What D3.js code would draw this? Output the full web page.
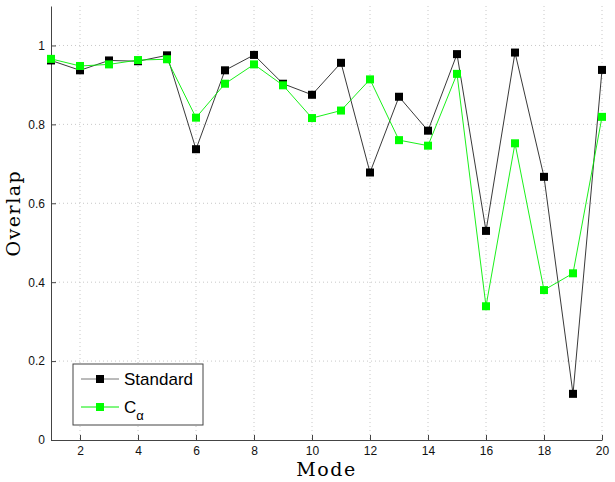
<!DOCTYPE html>
<html>
<head>
<meta charset="utf-8">
<script src="https://cdn.jsdelivr.net/npm/d3@7"></script>
<style>
  body { margin: 0; background: #fff; }
  .tick text { font-family: "Liberation Sans", Arial, sans-serif; font-size: 12px; fill: #111; }
  .grid line { stroke: #c8c8c8; stroke-dasharray: 1,3; }
</style>
</head>
<body>
<div class="chart"></div>
<script>
// data
const modes = [1,2,3,4,5,6,7,8,9,10,11,12,13,14,15,16,17,18,19,20];
const standard = [0.962,0.937,0.962,0.960,0.975,0.737,0.937,0.976,0.903,0.875,
                  0.956,0.678,0.870,0.784,0.978,0.530,0.982,0.667,0.117,0.938];
const calpha = [0.966,0.948,0.952,0.963,0.965,0.817,0.903,0.952,0.899,0.816,
                0.835,0.914,0.760,0.746,0.928,0.339,0.752,0.380,0.4225,0.819];
const xTicks = [2,4,6,8,10,12,14,16,18,20];
const yTicks = [0,0.2,0.4,0.6,0.8,1];

// dimensions
const margin = { top: 6, right: 13, bottom: 42, left: 51 },
  width = 615 - margin.left - margin.right,
  height = 482 - margin.top - margin.bottom;

const svg = d3.select(".chart")
  .append("svg")
  .attr("width", 615)
  .attr("height", 482)
  .append("g")
  .attr("transform", `translate(${margin.left}, ${margin.top})`);

const x = d3.scaleLinear().domain([1, 20]).range([0, width]);
const y = d3.scaleLinear().domain([0, 1.1]).range([height, 0]);

// dotted grid
svg.append("g").attr("class", "grid")
  .selectAll("line.v").data(xTicks).join("line")
  .attr("x1", d => x(d)).attr("x2", d => x(d))
  .attr("y1", 0).attr("y2", height);
svg.append("g").attr("class", "grid")
  .selectAll("line.h").data(yTicks.filter(d => d > 0)).join("line")
  .attr("x1", 0).attr("x2", width)
  .attr("y1", d => y(d)).attr("y2", d => y(d));

// axes, ticks pointing inward
const xAxis = svg.append("g")
  .attr("transform", `translate(0, ${height})`)
  .call(d3.axisBottom(x).tickValues(xTicks).tickSize(-5).tickPadding(6).tickSizeOuter(0));
const yAxis = svg.append("g")
  .call(d3.axisLeft(y).tickValues(yTicks).tickSize(-5).tickPadding(6).tickSizeOuter(0)
    .tickFormat(d => d === 0 || d === 1 ? d : d3.format(".1f")(d)));
[xAxis, yAxis].forEach(a => {
  a.selectAll(".domain").attr("stroke", "#444");
  a.selectAll(".tick line").attr("stroke", "#444");
});

// axis labels
svg.append("text")
  .attr("x", width / 2)
  .attr("y", height + 36)
  .attr("text-anchor", "middle")
  .style("font-family", "'DejaVu Serif', 'Liberation Serif', serif")
  .style("font-size", "19px")
  .style("letter-spacing", "1.5px")
  .text("Mode");
svg.append("text")
  .attr("transform", `translate(-31, ${y(0.575)}) rotate(-90)`)
  .attr("text-anchor", "middle")
  .style("font-family", "'DejaVu Serif', 'Liberation Serif', serif")
  .style("font-size", "19px")
  .style("letter-spacing", "1.5px")
  .text("Overlap");

const series = [
  { name: "Standard", values: standard, color: "#000000", line: "#222222" },
  { name: "C", values: calpha, color: "#00ff00", line: "#00ee00" }
];

const line = d3.line()
  .x((d, i) => x(modes[i]))
  .y(d => y(d));

series.forEach(s => {
  svg.append("path")
    .datum(s.values)
    .attr("fill", "none")
    .attr("stroke", s.line)
    .attr("stroke-width", 0.9)
    .attr("d", line);
  svg.selectAll(null)
    .data(s.values)
    .join("rect")
    .attr("x", (d, i) => x(modes[i]) - 4)
    .attr("y", d => y(d) - 4)
    .attr("width", 8)
    .attr("height", 8)
    .attr("fill", s.color);
});

// legend
const lg = svg.append("g").attr("transform", "translate(22, 358)");
lg.append("rect")
  .attr("width", 130).attr("height", 61)
  .attr("fill", "#fff").attr("stroke", "#444").attr("stroke-width", 1);
series.forEach((s, i) => {
  const row = lg.append("g").attr("transform", `translate(0, ${15 + i * 28})`);
  row.append("line")
    .attr("x1", 8).attr("x2", 46)
    .attr("stroke", i === 0 ? "#777" : s.line).attr("stroke-width", 1);
  row.append("rect")
    .attr("x", 23).attr("y", -4).attr("width", 8).attr("height", 8)
    .attr("fill", s.color);
  const t = row.append("text")
    .attr("x", 51).attr("y", 6)
    .style("font-family", "'Liberation Sans', Arial, sans-serif")
    .style("font-size", "17px")
    .text(s.name);
  if (i === 1) {
    t.append("tspan").attr("dy", 7).style("font-size", "13px").text("α");
  }
});
</script>
</body>
</html>
